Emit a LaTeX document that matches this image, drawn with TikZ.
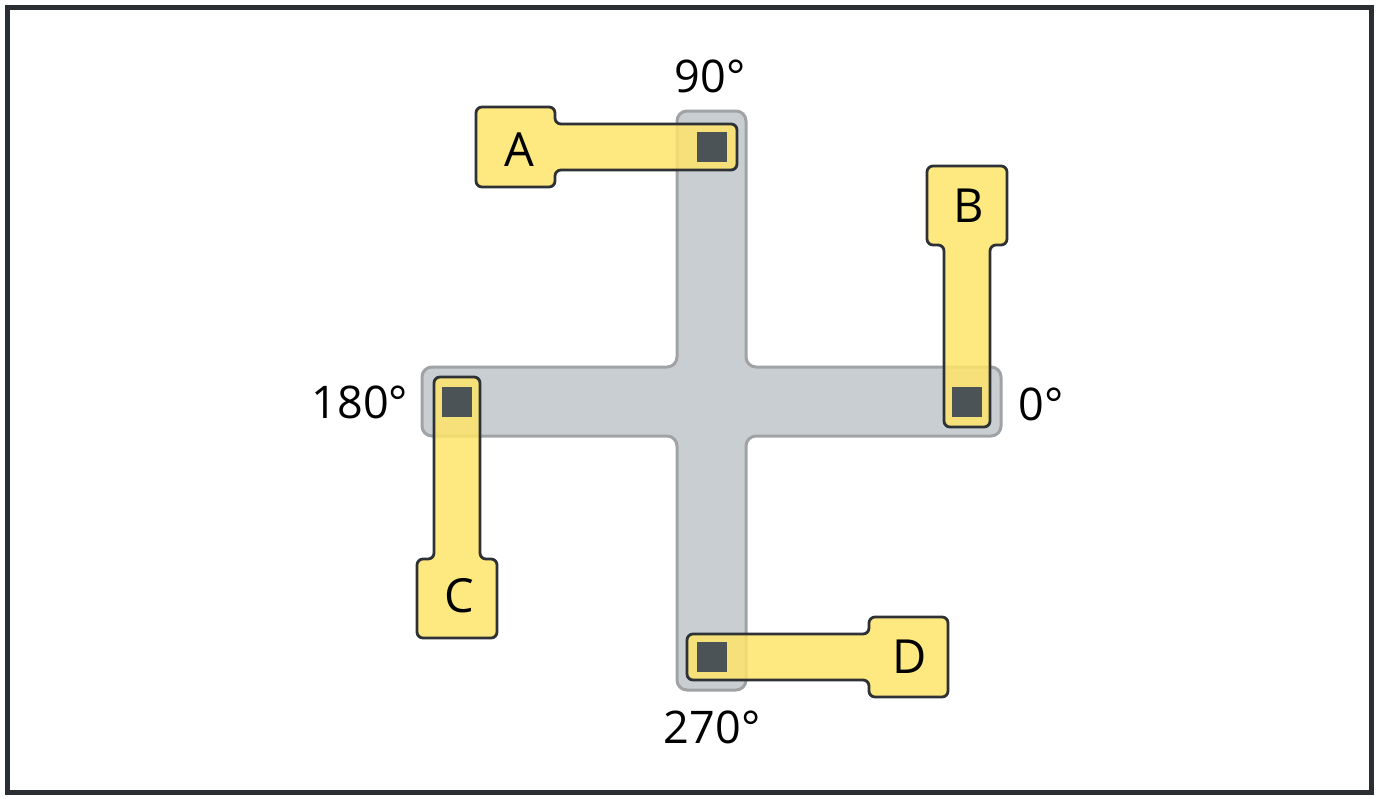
\documentclass[tikz,border=0pt]{standalone}
\usepackage{fontspec}
\setmainfont{Open Sans}
\definecolor{framec}{HTML}{2B2E33}
\definecolor{crossfill}{HTML}{C8CED1}
\definecolor{crossline}{HTML}{A0A3A6}
\definecolor{tabfill}{HTML}{FEE46A}
\definecolor{tabline}{HTML}{2E3135}
\definecolor{padfill}{HTML}{4B5356}
\tikzset{
  crossbox/.style={fill=crossfill, draw=crossline, line width=3pt, rounded corners=10pt},
  tabshape/.style={fill=tabfill, fill opacity=0.85, draw=tabline, draw opacity=1, line width=2.8pt, rounded corners=6pt},
  padbox/.style={fill=padfill},
  lbl/.style={font=\fontsize{47}{50}\selectfont, text=black, anchor=base, inner sep=0pt},
  anglbl/.style={lbl, font=\fontsize{45}{50}\selectfont},
}
\newcommand{\tabpath}{(-25,-23) -- (157,-23) -- (157,-40) -- (236,-40) -- (236,40) -- (157,40) -- (157,23) -- (-25,23) -- cycle}
\begin{document}
\begin{tikzpicture}[x=1pt,y=-1pt]
\useasboundingbox (0,0) rectangle (1380,798);
\fill[white] (0,0) rectangle (1380,798);
\draw[framec, line width=5pt] (7.5,7.5) rectangle (1371.5,792.5);
% cross
\draw[crossbox] (677,111) -- (746,111) -- (746,367) -- (1001,367) -- (1001,436) -- (746,436) -- (746,690) -- (677,690) -- (677,436) -- (422,436) -- (422,367) -- (677,367) -- cycle;
% tabs
\begin{scope}[shift={(712,147)}, rotate=180]
  \draw[tabshape] \tabpath;
  \fill[padbox] (-15,-15) rectangle (15,15);
\end{scope}
\begin{scope}[shift={(967,402)}, rotate=90]
  \draw[tabshape] \tabpath;
  \fill[padbox] (-15,-15) rectangle (15,15);
\end{scope}
\begin{scope}[shift={(457,402)}, rotate=270]
  \draw[tabshape] \tabpath;
  \fill[padbox] (-15,-15) rectangle (15,15);
\end{scope}
\begin{scope}[shift={(712,657)}, rotate=0]
  \draw[tabshape] \tabpath;
  \fill[padbox] (-15,-15) rectangle (15,15);
\end{scope}
% tab letters
\node[lbl] (la) at (519,166) {A};
\node[lbl] (lb) at (969,222) {B};
\node[lbl] (lc) at (459,612) {C};
\node[lbl] (ld) at (910,673) {D};
% angle labels
\node[anglbl] (a90) at (710,92) {90°};
\node[anglbl] (a180) at (360,418) {180°};
\node[anglbl] (a0) at (1041,420) {0°};
\node[anglbl] (a270) at (712,743) {270°};
\end{tikzpicture}
\end{document}
